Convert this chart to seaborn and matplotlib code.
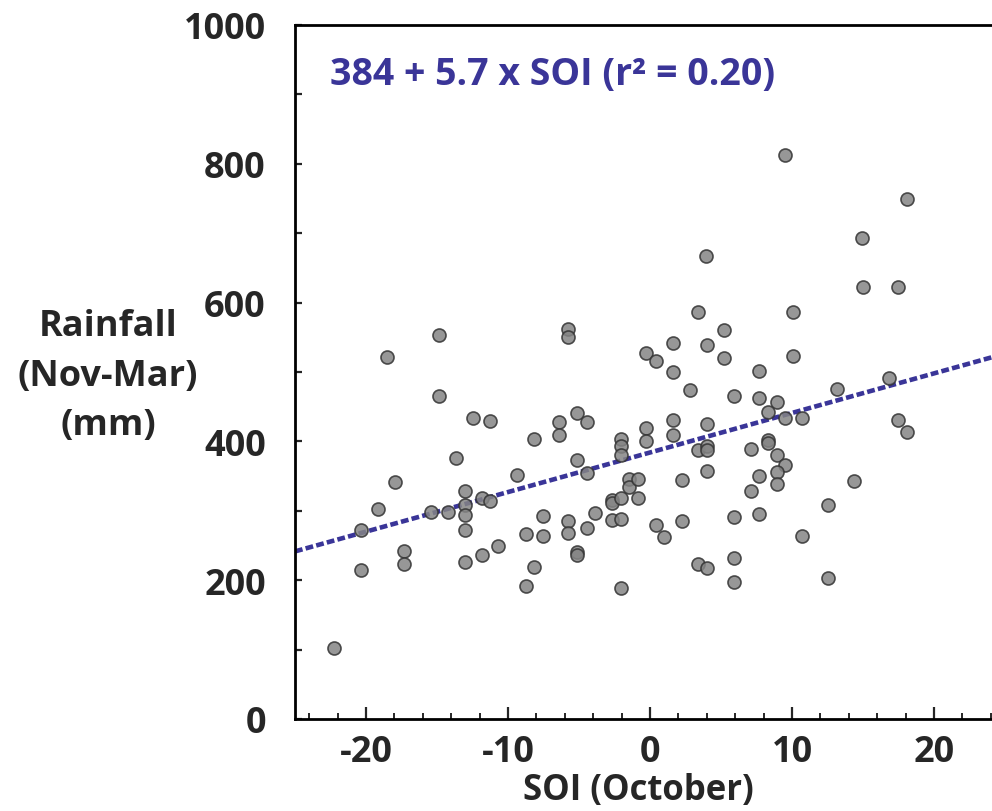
import numpy as np
import pandas as pd
import matplotlib
matplotlib.use("Agg")
import matplotlib.pyplot as plt
from matplotlib.ticker import MultipleLocator
import seaborn as sns

# ---- data ----
soi = [
    -18.54, -14.84, -14.84, -12.44, -11.27, -13.66, -17.94, -19.13, -20.35, -20.35,
    -17.32, -17.32, -22.23, -15.44, -14.23, -13.05, -13.05, -13.05, -13.05, -13.05,
    -11.85, -11.27, -11.85, -10.68, -9.37, -8.75, -8.75, -8.15, -8.15, -7.56,
    -7.56, -6.39, -6.39, -5.75, -5.75, -5.16, -4.46, -5.16, -4.46, -5.75,
    -5.75, -5.16, -5.16, -4.46, -3.87, -2.70, -2.70, -2.06, -2.70, -2.06,
    -2.06, -2.06, -2.06, -2.06, -1.46, -1.46, -0.87, -0.87,
    -0.28, 0.42, 1.64, 1.64, 3.40, 4.01, 5.21, 5.21, 2.82, -0.28,
    -0.28, 1.64, 1.64, 4.01, 3.40, 4.01, 4.01, 4.01, 2.23, 0.42,
    1.01, 2.23, 3.40, 4.01, 5.89, 5.89, 5.89, 5.89, 7.70, 7.70,
    8.92, 8.31, 9.51, 10.68, 10.09, 10.09, 7.09, 8.31, 8.31, 8.92,
    9.51, 8.92, 8.92, 7.70, 7.09, 7.70, 10.68, 12.56, 12.56, 14.39,
    13.17, 16.85, 17.49, 18.08, 15.02, 17.49,
    9.51, 18.10, 14.93, 3.94,
]
rainfall = [
    521, 553, 466, 434, 429, 376, 342, 303, 273, 215,
    242, 224, 103, 298, 298, 329, 308, 294, 273, 226,
    318, 314, 236, 249, 351, 267, 191, 403, 219, 292,
    264, 428, 409, 562, 551, 441, 428, 373, 354, 286,
    268, 240, 236, 275, 297, 316, 311, 318, 287, 288,
    404, 394, 381, 189, 346, 335, 318, 346,
    528, 516, 542, 500, 587, 539, 560, 520, 474, 419,
    400, 431, 409, 425, 387, 394, 387, 357, 345, 279,
    262, 285, 223, 217, 232, 198, 291, 466, 501, 463,
    457, 443, 434, 433, 587, 523, 389, 402, 397, 381,
    366, 356, 339, 350, 329, 296, 264, 309, 203, 343,
    476, 491, 431, 414, 622, 622,
    812, 749, 693, 667,
]
intercept = 384.0
slope = 5.7
x_range = [-25, 25]

df = pd.DataFrame({"SOI": soi, "Rainfall": rainfall})
line_x = np.array(x_range, dtype=float)
line_df = pd.DataFrame({"SOI": line_x, "Rainfall": intercept + slope * line_x})

sns.set_theme(style="white")
plt.rcParams["font.family"] = ["Open Sans", "DejaVu Sans"]
plt.rcParams["font.weight"] = "bold"
plt.rcParams["axes.unicode_minus"] = False

fig = plt.figure(figsize=(9.92, 8.12), dpi=100)
ax = fig.add_axes([295 / 992, 92 / 812, 710 / 992, 694 / 812])

blue = "#3a3598"
sns.lineplot(data=line_df, x="SOI", y="Rainfall", ax=ax, color=blue,
             linewidth=3.3, linestyle=(0, (1.7, 0.7)), zorder=2)
sns.scatterplot(data=df, x="SOI", y="Rainfall", ax=ax, s=88,
                color="#858585", edgecolor="#333333", linewidth=1.2,
                alpha=0.85, zorder=3)

ax.set_xlim(x_range)
ax.set_ylim(0, 1000)
ax.xaxis.set_major_locator(MultipleLocator(10))
ax.xaxis.set_minor_locator(MultipleLocator(2))
ax.yaxis.set_major_locator(MultipleLocator(200))
ax.yaxis.set_minor_locator(MultipleLocator(100))

for side in ["left", "bottom", "top", "right"]:
    ax.spines[side].set_linewidth(2.0)
    ax.spines[side].set_color("black")

ax.tick_params(axis="x", which="major", direction="in", length=9, width=1.6,
               pad=11, labelsize=26, bottom=True, top=False)
ax.tick_params(axis="x", which="minor", direction="in", length=4, width=1.4,
               bottom=True, top=False)
ax.tick_params(axis="y", which="both", direction="in", length=5, width=1.6,
               pad=21, labelsize=26, left=True, right=False)
for lab in ax.get_xticklabels() + ax.get_yticklabels():
    lab.set_fontweight("bold")

ax.set_xlabel("SOI (October)", fontsize=25, fontweight="bold", labelpad=0)
ax.xaxis.set_label_coords(0.483, -0.077)
ax.set_ylabel("")
fig.text(108 / 992, 1 - 377 / 812, "Rainfall\n(Nov-Mar)\n(mm)", ha="center",
         va="center", multialignment="center", fontsize=26, fontweight="bold",
         linespacing=1.5)

ax.text(0.049, 0.929, "384 + 5.7 x SOI (r² = 0.20)", transform=ax.transAxes,
        ha="left", va="center", fontsize=27, fontweight="bold", color=blue)

if ax.get_legend() is not None:
    ax.get_legend().remove()

fig.savefig("out.png", dpi=100, facecolor="white")
